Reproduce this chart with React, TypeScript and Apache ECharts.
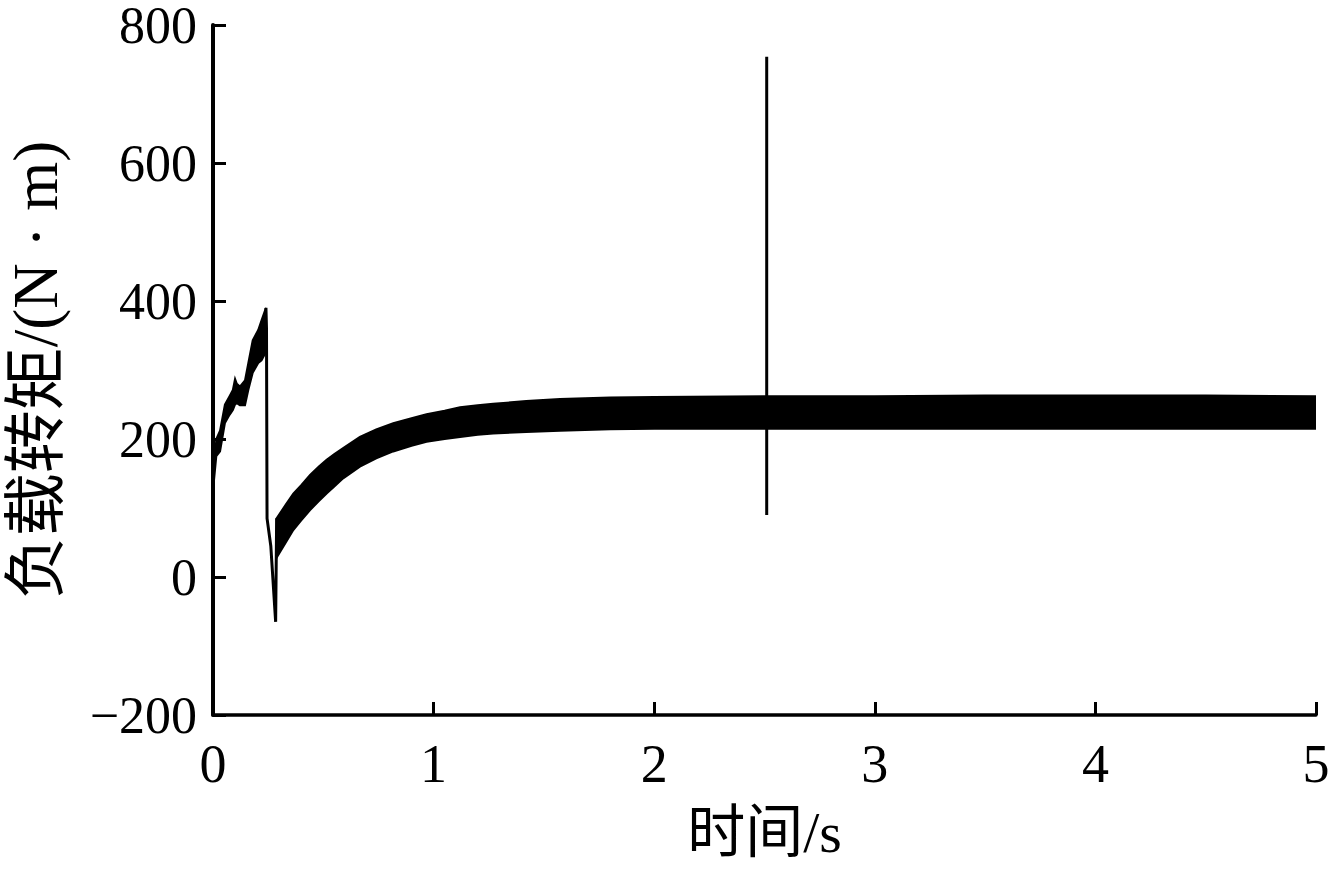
import React, { useEffect, useRef } from "react";
import * as echarts from "echarts";

// Early rising band (t in s, torque in N·m)
const earlyT = [0, 0.015, 0.032, 0.054, 0.075, 0.09, 0.1, 0.108, 0.122, 0.145, 0.16, 0.18, 0.205, 0.22, 0.24];
const earlyUpper = [130, 200, 212, 250, 262, 271, 287, 280, 276, 285, 310, 343, 358, 372, 390];
const earlyLower = [125, 175, 182, 223, 235, 242, 250, 252, 249, 249, 271, 296, 310, 314, 326];

// Sudden drop after load change
const dropT = [0.24, 0.2425, 0.245, 0.262, 0.284, 0.2885];
const dropV = [390, 360, 85, 45, -65, 85];

// Recovering / steady band
const steadyT = [0.2885, 0.33, 0.364, 0.4, 0.44, 0.48, 0.515, 0.55, 0.59, 0.666, 0.74, 0.817, 0.9, 0.968, 1.05, 1.12, 1.2, 1.27, 1.42, 1.573, 1.8, 2.0, 2.5, 3.0, 3.5, 4.0, 4.5, 5.0];
const steadyUpper = [85, 105, 121, 133, 148, 160, 170, 178, 187, 203, 214, 223, 230, 236, 241, 246, 249, 251, 255, 258, 260, 261, 262, 262, 263, 263, 263, 262];
const steadyLower = [28, 50, 68, 82, 97, 110, 121, 131, 143, 160, 172, 182, 190, 196, 200, 203, 206, 208, 210, 212, 214, 215, 215, 215, 215, 215, 215, 215];

// Spike at t ≈ 2.5 s
const spikeT = [2.51, 2.51];
const spikeV = [90, 754];

const xName = "时间/s";
const yName = "负载转矩/(N · m)";

const serif = '"Liberation Serif", "Times New Roman", "Noto Sans CJK SC", serif';

function bandSeries(ts: number[], up: number[], lo: number[]) {
  return {
    type: "custom",
    silent: true,
    clip: true,
    encode: { x: 0, y: [1, 2] },
    data: ts.map((t, i) => [t, lo[i], up[i]]),
    renderItem: (params: any, api: any) => {
      if (params.dataIndex !== 0) return null;
      const pts: number[][] = [];
      for (let i = 0; i < ts.length; i++) pts.push(api.coord([ts[i], up[i]]));
      for (let i = ts.length - 1; i >= 0; i--) pts.push(api.coord([ts[i], lo[i]]));
      return {
        type: "polygon",
        shape: { points: pts },
        style: { fill: "#000", stroke: "#000", lineWidth: 2 },
      };
    },
  };
}

export default function App() {
  const ref = useRef<HTMLDivElement>(null);
  useEffect(() => {
    if (!ref.current) return;
    const chart = echarts.init(ref.current, null, { renderer: "svg" });
    chart.setOption({
      animation: false,
      backgroundColor: "#fff",
      grid: { left: 213, right: 20, top: 25, bottom: 156, containLabel: false, outerBoundsMode: "none" },
      xAxis: {
        type: "value",
        min: 0,
        max: 5,
        interval: 1,
        name: xName,
        nameLocation: "middle",
        nameGap: 88,
        nameTextStyle: { fontFamily: serif, fontSize: 58, color: "#000" },
        axisLine: { show: true, onZero: false, lineStyle: { color: "#000", width: 3.5 } },
        axisTick: { show: true, inside: true, length: 13, lineStyle: { color: "#000", width: 3 } },
        axisLabel: { color: "#000", fontFamily: serif, fontSize: 54, margin: 22 },
        splitLine: { show: false },
      },
      yAxis: {
        type: "value",
        min: -200,
        max: 800,
        interval: 200,
        name: yName,
        nameLocation: "middle",
        nameGap: 146,
        nameRotate: 90,
        nameTextStyle: { fontFamily: serif, fontSize: 63, color: "#000" },
        axisLine: { show: true, onZero: false, lineStyle: { color: "#000", width: 4 } },
        axisTick: { show: true, inside: true, length: 13, lineStyle: { color: "#000", width: 3 } },
        axisLabel: {
          color: "#000",
          fontFamily: serif,
          fontSize: 52,
          lineHeight: 44,
          padding: [8, 0, 0, 0],
          margin: 16,
          formatter: (v: number) => (v < 0 ? "\u2212" + Math.abs(v) : String(v)),
        },
        splitLine: { show: false },
      },
      series: [
        bandSeries(earlyT, earlyUpper, earlyLower),
        bandSeries(steadyT, steadyUpper, steadyLower),
        {
          type: "line",
          data: dropT.map((t, i) => [t, dropV[i]]),
          showSymbol: false,
          lineStyle: { color: "#000", width: 3 },
          silent: true,
        },
        {
          type: "line",
          data: spikeT.map((t, i) => [t, spikeV[i]]),
          showSymbol: false,
          lineStyle: { color: "#000", width: 3 },
          silent: true,
        },
      ],
    });
    return () => chart.dispose();
  }, []);
  return (
    <div
      ref={ref}
      style={{ position: "fixed", left: 0, top: 0, width: 1336, height: 871, background: "#fff" }}
    />
  );
}
